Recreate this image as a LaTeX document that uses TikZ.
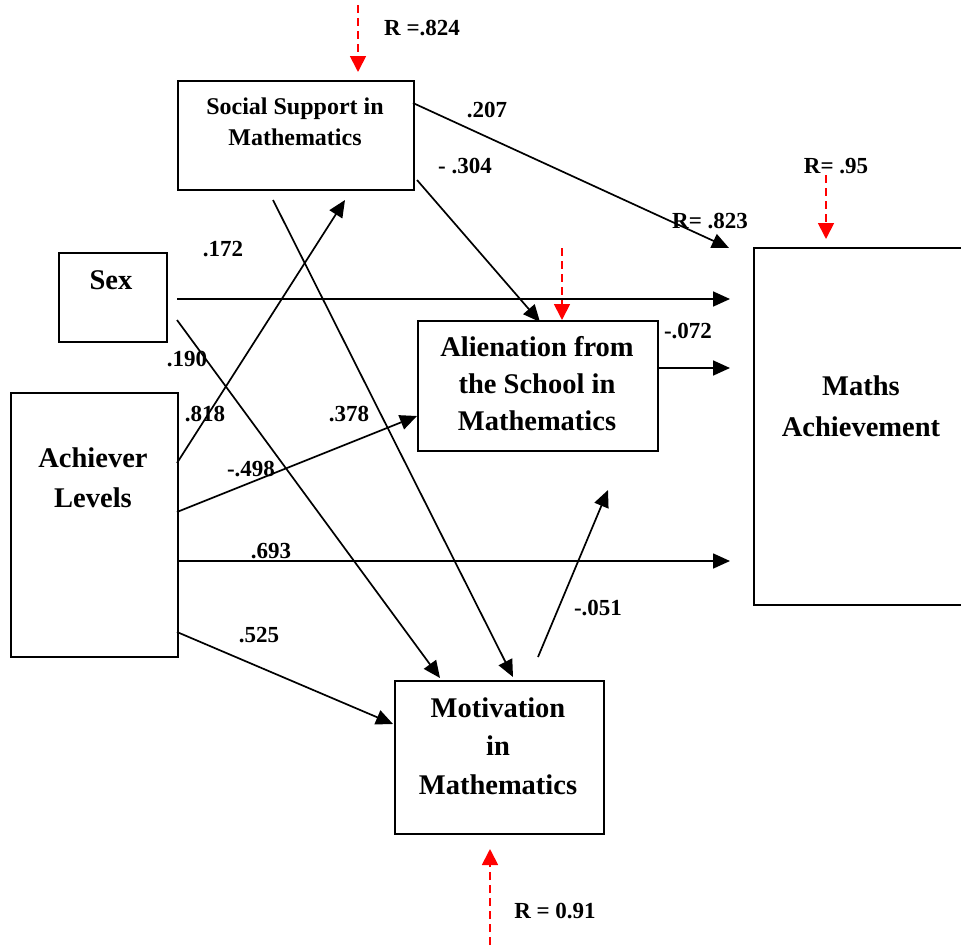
\documentclass[tikz,border=0pt]{standalone}
\usepackage{fontspec}
\setmainfont{Liberation Serif}
\usetikzlibrary{arrows.meta}
\begin{document}
\begin{tikzpicture}[x=1pt,y=-1pt,
  box/.style={draw, line width=2pt, rectangle, inner sep=0pt, anchor=north west},
  conn/.style={line width=1.7pt, -{Triangle[length=17pt,width=15pt]}},
  rarr/.style={draw=red, line width=1.8pt, dash pattern=on 8pt off 5pt, -{Triangle[length=16pt,width=16pt]}, red},
  lbl/.style={font=\fontsize{23}{27}\selectfont\bfseries, inner sep=0pt},
  btxt/.style={font=\fontsize{28.5}{38.5}\selectfont\bfseries, align=center, inner sep=0pt},
  stxt/.style={font=\fontsize{24}{31}\selectfont\bfseries, align=center, inner sep=0pt}]
\useasboundingbox (0,0) rectangle (961,945);
% boxes
\node[box, minimum width=236pt, minimum height=109pt] (ss) at (177,80) {};
\node[box, minimum width=108pt, minimum height=89pt] (sex) at (58,252) {};
\node[box, minimum width=167pt, minimum height=264pt] (ach) at (10,392) {};
\node[box, minimum width=240pt, minimum height=130pt] (al) at (417,320) {};
\node[box, minimum width=209pt, minimum height=153pt] (mo) at (394,680) {};
\node[box, minimum width=230pt, minimum height=357pt] (ma) at (753,247) {};
% box texts
\node[stxt] (sst) at (295,121.5) {Social Support in\\Mathematics};
\node[btxt] (sext) at (111,280) {Sex};
\node[btxt, font=\fontsize{28.5}{40}\selectfont\bfseries] (acht) at (93,478) {Achiever\\Levels};
\node[btxt, font=\fontsize{28.5}{37}\selectfont\bfseries] (alt) at (537,384) {Alienation from\\the School in\\Mathematics};
\node[btxt] (mot) at (498,746) {Motivation\\in\\Mathematics};
\node[btxt, font=\fontsize{28.5}{41}\selectfont\bfseries] (mat) at (861,406) {Maths\\Achievement};
% connector end points
\coordinate (ssA) at (413,103);
\coordinate (ssB) at (417,180);
\coordinate (ssC) at (273,200);
\coordinate (ssD) at (345,200);
\coordinate (sexA) at (177,299);
\coordinate (sexB) at (177,320);
\coordinate (achA) at (177,463);
\coordinate (achB) at (177,512);
\coordinate (achC) at (177,561);
\coordinate (achD) at (177,632);
\coordinate (alA) at (540,322);
\coordinate (alB) at (417,416);
\coordinate (alC) at (657,368);
\coordinate (moA) at (513,677);
\coordinate (moB) at (440,678);
\coordinate (moC) at (393,724);
\coordinate (moD) at (538,657);
\coordinate (free) at (608,490);
\coordinate (maA) at (729,248);
\coordinate (maB) at (730,299);
\coordinate (maC) at (730,561);
\coordinate (maE) at (730,368);
% connectors
\draw[conn] (ssA) -- (maA);
\draw[conn] (ssB) -- (alA);
\draw[conn] (ssC) -- (moA);
\draw[conn] (sexA) -- (maB);
\draw[conn] (sexB) -- (moB);
\draw[conn] (achA) -- (ssD);
\draw[conn] (achB) -- (alB);
\draw[conn] (achC) -- (maC);
\draw[conn] (achD) -- (moC);
\draw[conn] (moD) -- (free);
\draw[conn] (alC) -- (maE);
% residual arrows
\coordinate (r1s) at (358,5);   \coordinate (r1e) at (358,72);
\coordinate (r2s) at (562,248); \coordinate (r2e) at (562,320);
\coordinate (r3s) at (826,175); \coordinate (r3e) at (826,239);
\coordinate (r4s) at (490,945); \coordinate (r4e) at (490,849);
\draw[rarr] (r1s) -- (r1e);
\draw[rarr] (r2s) -- (r2e);
\draw[rarr] (r3s) -- (r3e);
\draw[rarr] (r4s) -- (r4e);
% labels
\node[lbl] (l1) at (422,28) {R =.824};
\node[lbl] (l2) at (487,110) {.207};
\node[lbl] (l3) at (465,166) {- .304};
\node[lbl] (l4) at (710,221) {R= .823};
\node[lbl] (l5) at (836,166) {R= .95};
\node[lbl] (l6) at (223,249) {.172};
\node[lbl] (l7) at (187,359) {.190};
\node[lbl] (l8) at (205,414) {.818};
\node[lbl] (l9) at (349,414) {.378};
\node[lbl] (l10) at (251,469) {-.498};
\node[lbl] (l11) at (271,551) {.693};
\node[lbl] (l12) at (259,635) {.525};
\node[lbl] (l13) at (598,608) {-.051};
\node[lbl] (l14) at (688,331) {-.072};
\node[lbl] (l15) at (555,911) {R = 0.91};
\end{tikzpicture}
\end{document}
